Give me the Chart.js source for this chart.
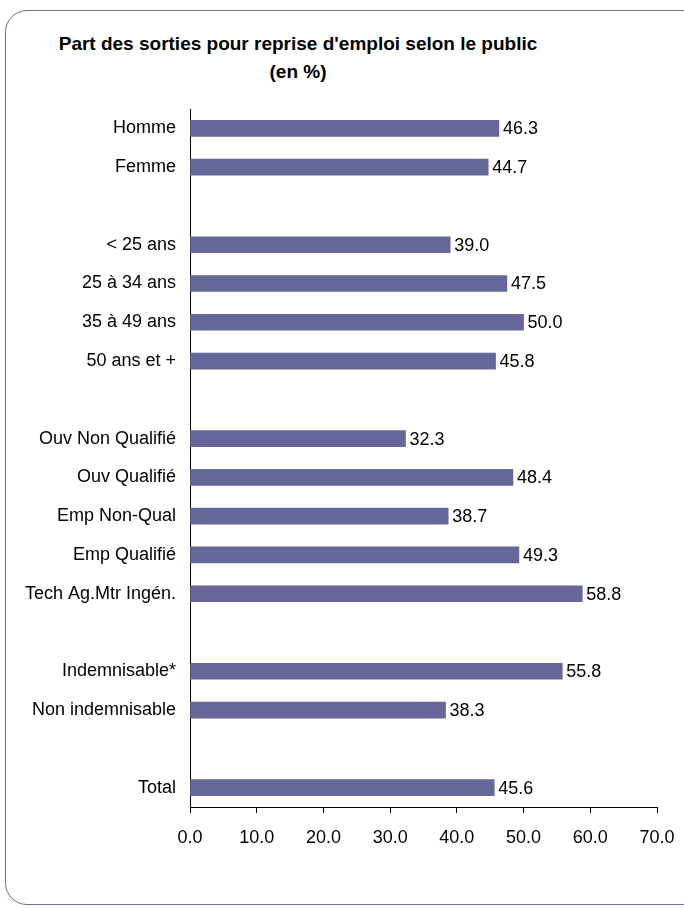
<!DOCTYPE html>
<html>
<head>
<meta charset="utf-8">
<script src="https://cdn.jsdelivr.net/npm/chart.js@4.4.1/dist/chart.umd.min.js"></script>
<style>
  html, body { margin: 0; padding: 0; background: #fff; }
  #wrap { position: relative; width: 684px; height: 908px; overflow: hidden; }
  #frame {
    position: absolute; left: 5px; top: 10px; width: 700px; height: 895px;
    border: 1.5px solid #6f6ca6; border-radius: 22px; box-sizing: border-box;
  }
  #title {
    position: absolute; left: 0; top: 30px; width: 596px; text-align: center;
    font-family: "Liberation Sans", Arial, sans-serif; font-weight: bold;
    font-size: 19px; line-height: 28px; color: #000;
  }
  #chartBox { position: absolute; left: 0; top: 0; width: 684px; height: 908px; }
</style>
</head>
<body>
<div id="wrap">
  <div id="frame"></div>
  <div id="title">Part des sorties pour reprise d'emploi selon le public<br>(en %)</div>
  <div id="chartBox"><canvas id="chart"></canvas></div>
</div>
<script>
// categories ('' = ligne vide entre les groupes)
const categories = [
  'Homme', 'Femme', '',
  '< 25 ans', '25 à 34 ans', '35 à 49 ans', '50 ans et +', '',
  'Ouv Non Qualifié', 'Ouv Qualifié', 'Emp Non-Qual', 'Emp Qualifié', 'Tech Ag.Mtr Ingén.', '',
  'Indemnisable*', 'Non indemnisable', '',
  'Total'
]
const values = [
  46.3, 44.7, null,
  39.0, 47.5, 50.0, 45.8, null,
  32.3, 48.4, 38.7, 49.3, 58.8, null,
  55.8, 38.3, null,
  45.6
]
const xTicks = [0, 10, 20, 30, 40, 50, 60, 70]

const FONT = '"Liberation Sans", Arial, sans-serif'

// etiquettes de valeurs au bout des barres
const valueLabels = {
  id: 'valueLabels',
  afterDatasetsDraw(chart) {
    const ctx = chart.ctx
    const meta = chart.getDatasetMeta(0)
    ctx.save()
    ctx.font = '18px ' + FONT
    ctx.fillStyle = '#000'
    ctx.textAlign = 'left'
    ctx.textBaseline = 'middle'
    meta.data.forEach((bar, i) => {
      const v = values[i]
      if (v === null) return
      ctx.fillText(v.toFixed(1), bar.x + 4, bar.y + 1)
    })
    ctx.restore()
  }
}

new Chart(document.getElementById('chart'), {
  type: 'bar',
  data: {
    labels: categories,
    datasets: [{
      data: values,
      backgroundColor: '#666699',
      borderWidth: 0,
      barThickness: 16
    }]
  },
  options: {
    indexAxis: 'y',
    responsive: true,
    maintainAspectRatio: false,
    animation: false,
    layout: { padding: { left: 0, right: 27, top: 109, bottom: 0 } },
    scales: {
      x: {
        min: 0,
        max: 70,
        afterBuildTicks: (axis) => { axis.ticks = xTicks.map(v => ({ value: v })) },
        afterFit: (axis) => {
          axis.height = 101
          axis.paddingLeft = 0
          axis.paddingRight = 0
        },
        grid: { drawOnChartArea: false, drawTicks: true, tickLength: 6, color: '#000' },
        border: { display: true, color: '#000', width: 1 },
        ticks: {
          color: '#000',
          font: { family: FONT, size: 18 },
          padding: 14,
          maxRotation: 0,
          callback: (v) => Number(v).toFixed(1)
        }
      },
      y: {
        afterFit: (axis) => {
          axis.width = 190
          axis.paddingTop = 0
          axis.paddingBottom = 0
        },
        grid: { display: false, drawTicks: false },
        border: { display: true, color: '#000', width: 1 },
        ticks: {
          color: '#000',
          font: { family: FONT, size: 18 },
          padding: 14,
          autoSkip: false
        }
      }
    },
    plugins: {
      legend: { display: false },
      tooltip: { enabled: false }
    }
  },
  plugins: [valueLabels]
})
</script>
</body>
</html>
